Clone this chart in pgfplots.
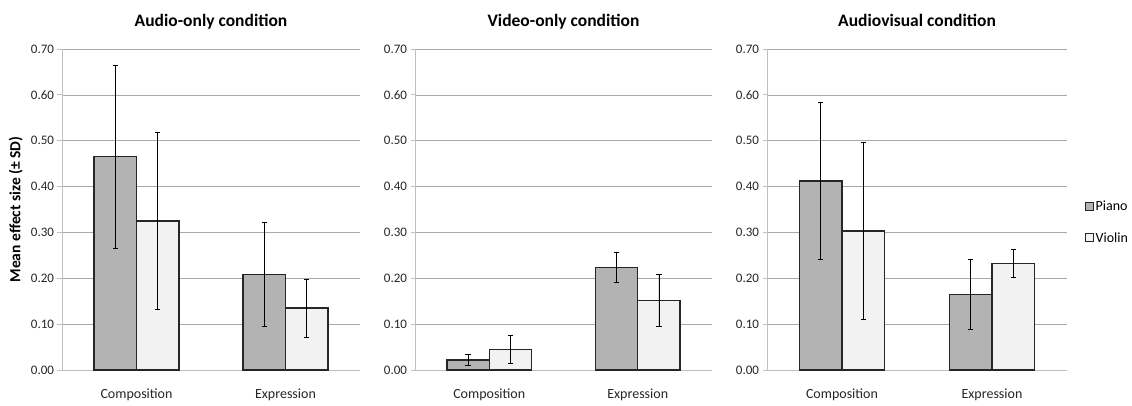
\documentclass[border=0pt]{standalone}
\usepackage{fontspec}
\setmainfont{Carlito}
\usepackage{pgfplots}
\usepackage{pgfplotstable}
\pgfplotsset{compat=1.18}

\definecolor{piano}{HTML}{B3B3B3}
\definecolor{violin}{HTML}{F2F2F2}
\definecolor{gridc}{HTML}{A8A8A8}
\definecolor{axc}{HTML}{BFBFBF}
\definecolor{txt}{HTML}{262626}

% x: 0 = Composition, 1 = Expression
\pgfplotstableread{
x y e
0 0.465 0.200
1 0.208 0.113
}\audioPiano
\pgfplotstableread{
x y e
0 0.325 0.193
1 0.135 0.063
}\audioViolin
\pgfplotstableread{
x y e
0 0.022 0.011
1 0.223 0.033
}\videoPiano
\pgfplotstableread{
x y e
0 0.045 0.031
1 0.151 0.057
}\videoViolin
\pgfplotstableread{
x y e
0 0.412 0.171
1 0.165 0.077
}\avPiano
\pgfplotstableread{
x y e
0 0.303 0.193
1 0.232 0.030
}\avViolin

\pgfplotsset{
  panel/.style={
    scale only axis,
    width=298pt, height=321pt,
    xmin=-0.5, xmax=1.5, ymin=0, ymax=0.7,
    axis x line*=bottom, axis y line*=left,
    axis line style={axc, line width=0.8pt, -},
    ytick={0,0.1,0.2,0.3,0.4,0.5,0.6,0.7},
    ymajorgrids, grid style={gridc, line width=0.7pt},
    tick align=outside,
    major tick length=4.5pt,
    ytick style={axc, line width=0.8pt},
    xtick={0,1},
    xticklabels={Composition, Expression},
    xtick style={draw=none},
    extra x ticks={-0.5,0.5,1.5},
    extra x tick labels={},
    extra x tick style={grid=none, tick style={draw=axc, line width=0.8pt}},
    /pgf/number format/assume math mode=true,
    yticklabel style={/pgf/number format/fixed, /pgf/number format/fixed zerofill,
      /pgf/number format/precision=2, font=\fontsize{13}{15}\selectfont, text=txt},
    xticklabel style={font=\fontsize{14}{16}\selectfont, text=txt, yshift=-11pt},
    title style={at={(0.5,1)}, anchor=base, yshift=17pt,
      font=\bfseries\fontsize{17.5}{19}\selectfont},
    ybar, bar width=0.285,
    error bars/y dir=both, error bars/y explicit,
    error bars/error bar style={black, line width=0.8pt},
    error bars/error mark options={rotate=90, mark size=2.6pt, black, line width=0.8pt},
    clip=false,
  },
  pianobar/.style={fill=piano, draw=black!85, line width=1.2pt, bar shift=-0.1425},
  violinbar/.style={fill=violin, draw=black!85, line width=1.2pt, bar shift=0.1425},
}

\begin{document}
\begin{tikzpicture}
\path[use as bounding box] (0pt,0pt) rectangle (1132pt,405pt);

\begin{axis}[panel, at={(62pt,35pt)}, anchor=south west,
  title={Audio-only condition},
  ylabel={Mean effect size (\textpm{} SD)},
  ylabel style={at={(axis description cs:-0.155,0.5)}, anchor=center,
    font=\bfseries\fontsize{15.5}{17}\selectfont, text=black}]
\addplot[pianobar] table[x=x, y=y, y error=e] {\audioPiano};
\addplot[violinbar] table[x=x, y=y, y error=e] {\audioViolin};
\end{axis}

\begin{axis}[panel, at={(415pt,35pt)}, width=297pt, anchor=south west,
  title={Video-only condition}]
\addplot[pianobar] table[x=x, y=y, y error=e] {\videoPiano};
\addplot[violinbar] table[x=x, y=y, y error=e] {\videoViolin};
\end{axis}

\begin{axis}[panel, at={(767pt,35pt)}, width=300pt, anchor=south west,
  title={Audiovisual condition},
  legend style={at={(axis description cs:1.05,0.46)}, anchor=west, draw=none, fill=none,
    font=\fontsize{14}{16}\selectfont, row sep=17pt,
    nodes={inner sep=1.5pt}},
  legend cell align=left,
  legend image code/.code={\draw[#1, line width=0.9pt] (0pt,-4pt) rectangle (8pt,4pt);}]
\addplot[pianobar] table[x=x, y=y, y error=e] {\avPiano};
\addlegendentry{Piano}
\addplot[violinbar] table[x=x, y=y, y error=e] {\avViolin};
\addlegendentry{Violin}
\end{axis}
\end{tikzpicture}
\end{document}
